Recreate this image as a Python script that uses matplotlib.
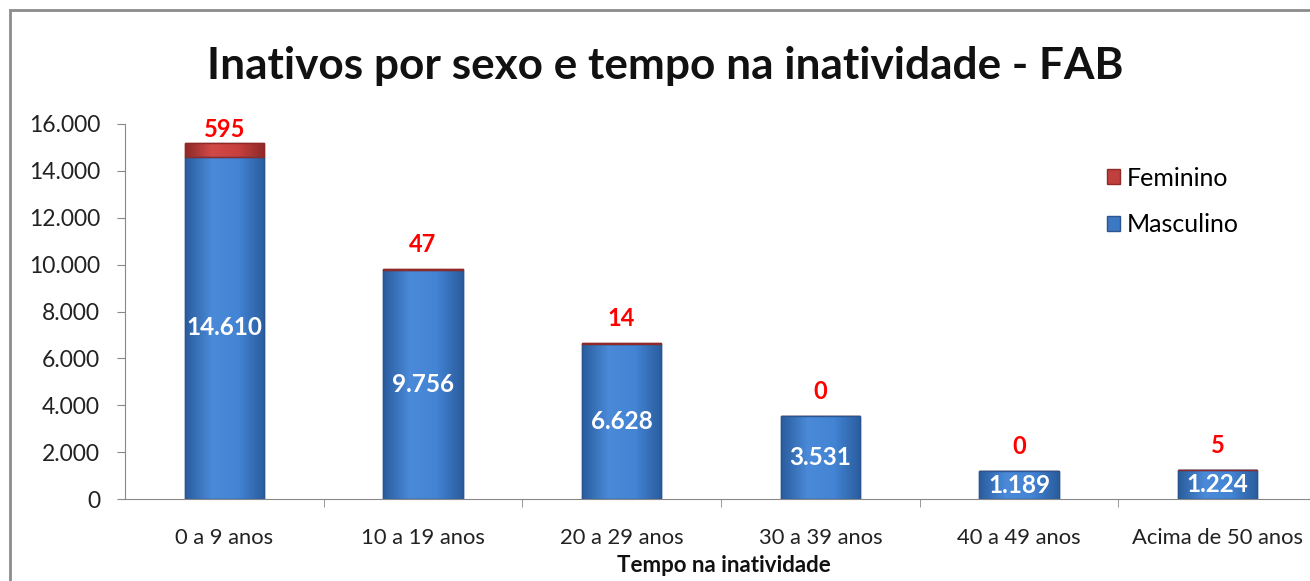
import numpy as np
import matplotlib.pyplot as plt
from matplotlib.ticker import FuncFormatter
from matplotlib.colors import LinearSegmentedColormap

plt.rcParams['font.family'] = ['Lato', 'DejaVu Sans']

categorias = ['0 a 9 anos', '10 a 19 anos', '20 a 29 anos', '30 a 39 anos',
              '40 a 49 anos', 'Acima de 50 anos']
masculino = [14610, 9756, 6628, 3531, 1189, 1224]
feminino = [595, 47, 14, 0, 0, 5]

def milhar(v, pos=None):
    return f'{int(v):,}'.replace(',', '.')

fig = plt.figure(figsize=(13.10, 5.81), dpi=100)
ax = fig.add_axes([125/1310, 1-499/581, 1192/1310, 375/581])

x = np.arange(len(categorias))
largura = 0.40

azul = LinearSegmentedColormap.from_list('azul', ['#2a5d9e', '#4a8ad8', '#4384d4', '#2a5d9e'])
vermelho = LinearSegmentedColormap.from_list('verm', ['#8e2a28', '#d24a47', '#c8403d', '#8e2a28'])
grad = np.linspace(0, 1, 64).reshape(1, -1)

barras_m = ax.bar(x, masculino, largura, color='#3c78c4', edgecolor='#2a5590',
                  linewidth=1, label='Masculino', zorder=2)
barras_f = ax.bar(x, feminino, largura, bottom=masculino, color='#c0403d',
                  edgecolor='#8e2a28', linewidth=1, label='Feminino', zorder=2)

# gradiente horizontal dentro de cada barra
for barras, cmap in ((barras_m, azul), (barras_f, vermelho)):
    for b in barras:
        if b.get_height() <= 0:
            continue
        x0, y0 = b.get_x(), b.get_y()
        im = ax.imshow(grad, cmap=cmap, aspect='auto', zorder=2.5,
                       extent=(x0, x0 + b.get_width(), y0, y0 + b.get_height()))
        im.set_clip_path(b)
        ax.bar(x0 + b.get_width()/2, b.get_height(), b.get_width(), bottom=y0,
               fill=False, edgecolor=b.get_edgecolor(), linewidth=1, zorder=3)

ax.set_xlim(-0.5, len(categorias) - 0.5)
ax.set_ylim(0, 16000)
ax.set_yticks(np.arange(0, 16001, 2000))
ax.yaxis.set_major_formatter(FuncFormatter(milhar))
ax.set_xticks(x)
ax.set_xticklabels(categorias)
ax.set_xticks(np.arange(0.5, len(categorias) - 0.5, 1), minor=True)
ax.tick_params(axis='x', which='major', length=0, pad=21, labelsize=15.8, colors='#222222')
ax.tick_params(axis='x', which='minor', length=6, color='#888888', direction='out')
ax.tick_params(axis='y', length=6, color='#888888', labelsize=16.5, colors='#222222', pad=12)
for lado in ('top', 'right'):
    ax.spines[lado].set_visible(False)
ax.spines['left'].set_color('#888888')
ax.spines['bottom'].set_color('#888888')

# rótulos dos valores
for xi, m, f in zip(x, masculino, feminino):
    ax.text(xi, m / 2, milhar(m), ha='center', va='center', color='white',
            fontsize=17.5, fontweight='bold', zorder=4)
    ytopo = min(m + f + 1070, 15780)
    ax.text(xi, ytopo, milhar(f), ha='center', va='center', color='#ff0000',
            fontsize=17, fontweight='bold', zorder=4)

fig.text(724/1310, 1-565/581, 'Tempo na inatividade', ha='center', va='center',
         fontsize=16, fontweight='bold', color='#111111')

fig.text(665/1310, 1-66/581, 'Inativos por sexo e tempo na inatividade - FAB',
         ha='center', va='center', fontsize=31.8, fontweight='bold', color='#111111')

h, l = ax.get_legend_handles_labels()
ax.legend(h[::-1], l[::-1], loc='upper left', bbox_to_anchor=(1084/1310, 1-144/581),
          bbox_transform=fig.transFigure, frameon=False, fontsize=18,
          handlelength=0.55, handleheight=0.55, handletextpad=0.25, labelspacing=0.95)

# moldura da área do gráfico
fig.patches.append(plt.Rectangle((10/1310, -0.1), 1.2, 1 - 10/581 + 0.1,
                                 transform=fig.transFigure, fill=False,
                                 edgecolor='#8c8c8c', linewidth=2))

fig.savefig('out.png', dpi=100)
